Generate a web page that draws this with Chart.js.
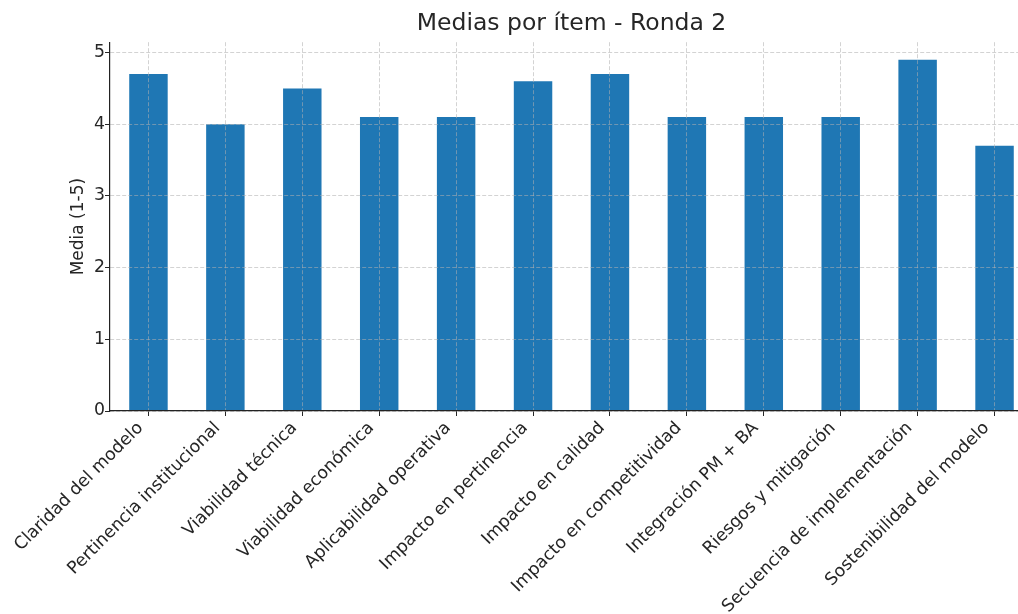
<!DOCTYPE html>
<html>
<head>
<meta charset="utf-8">
<script src="https://cdn.jsdelivr.net/npm/chart.js@4.4.1/dist/chart.umd.min.js"></script>
<style>
  html, body { margin: 0; padding: 0; background: #fff; overflow: hidden; }
  #wrap { width: 1034px; height: 614px; position: relative; }
</style>
</head>
<body>
<div id="wrap"><canvas id="chartMedias"></canvas></div>
<script>
const items = [
  "Claridad del modelo",
  "Pertinencia institucional",
  "Viabilidad técnica",
  "Viabilidad económica",
  "Aplicabilidad operativa",
  "Impacto en pertinencia",
  "Impacto en calidad",
  "Impacto en competitividad",
  "Integración PM + BA",
  "Riesgos y mitigación",
  "Secuencia de implementación",
  "Sostenibilidad del modelo"
];
const medias = [4.7, 4.0, 4.5, 4.1, 4.1, 4.6, 4.7, 4.1, 4.1, 4.1, 4.9, 3.7];
const yTicks = [0, 1, 2, 3, 4, 5];

const textColor = "#262626";
const gridColor = "rgba(176,176,176,0.7)";
const fuente = "'DejaVu Sans', sans-serif";

new Chart(document.getElementById("chartMedias"), {
  type: "bar",
  data: {
    labels: items,
    datasets: [{
      label: "Media",
      data: medias,
      backgroundColor: "#1f77b4",
      borderWidth: 0,
      barPercentage: 0.5,
      categoryPercentage: 1.0
    }]
  },
  options: {
    responsive: true,
    maintainAspectRatio: false,
    animation: false,
    layout: { padding: { left: 0, right: 1, top: 0, bottom: 0 } },
    plugins: {
      legend: { display: false },
      tooltip: { enabled: false },
      title: {
        display: true,
        text: "Medias por ítem - Ronda 2",
        fullSize: false,
        color: textColor,
        font: { family: fuente, size: 23.5, weight: "normal" },
        padding: { top: 10, bottom: 4 }
      }
    },
    scales: {
      x: {
        offset: true,
        grid: {
          offset: false,
          color: gridColor,
          lineWidth: 0.8,
          z: 1,
          drawTicks: true,
          tickLength: 5,
          tickColor: textColor,
          tickWidth: 1,
          tickBorderDash: []
        },
        border: { display: true, color: "#222", width: 1.2, dash: [4, 2], z: 2 },
        ticks: {
          autoSkip: false,
          minRotation: 45,
          maxRotation: 45,
          padding: 2,
          labelOffset: -8,
          color: textColor,
          font: { family: fuente, size: 17.3 }
        },
        afterFit(scale) { scale.height = 203; }
      },
      y: {
        min: 0,
        max: 5.145,
        afterBuildTicks(scale) {
          scale.ticks = yTicks.map(v => ({ value: v }));
        },
        grid: {
          color: gridColor,
          lineWidth: 0.8,
          z: 1,
          drawTicks: true,
          tickLength: 5,
          tickColor: textColor,
          tickWidth: 1,
          tickBorderDash: []
        },
        border: { display: true, color: "#222", width: 1.2, dash: [4, 2], z: 2 },
        ticks: {
          padding: 0,
          color: textColor,
          font: { family: fuente, size: 17.3 }
        },
        title: {
          display: true,
          text: "Media (1-5)",
          color: textColor,
          font: { family: fuente, size: 17 },
          padding: { top: 68, bottom: 0 }
        },
        afterFit(scale) { scale.width = 110; }
      }
    }
  }
});
</script>
</body>
</html>
